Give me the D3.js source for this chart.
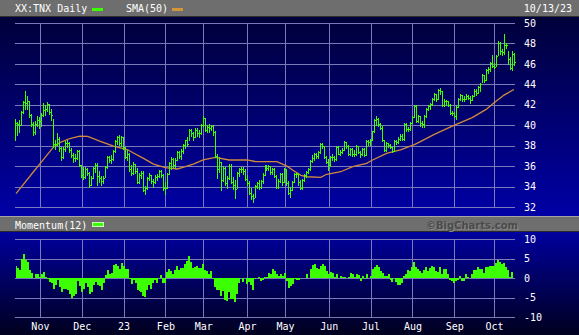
<!DOCTYPE html>
<html>
<head>
<meta charset="utf-8">
<script src="https://cdn.jsdelivr.net/npm/d3@7"></script>
<style>
  html, body { margin: 0; padding: 0; background: #000; }
  svg { display: block; }
</style>
</head>
<body>
<svg id="chart" width="579" height="335"></svg>
<script>
/* ════════════════════════════════════════════════════════
   XX:TNX daily bars + SMA(50) + Momentum(12), BigCharts look
   ════════════════════════════════════════════════════════ */

const W = 579;
const H = 335;
const GREEN     = '#3cff00';
const SMA_COLOR = '#d08a3a';
const GRID      = '#7a7abb';
const FONT      = '"DejaVu Sans Mono", monospace';

/* ── Daily bars, 14 Oct 2022 → 13 Oct 2023 (TNX = yield x10) ── */
const closes = [
  40.2, 40.1, 40.0, 41.3, 42.3, 42.2, 42.4, 41.0, 40.1, 39.3,
  40.1, 40.5, 40.4, 41.0, 41.5, 41.6, 42.1, 41.3, 41.0, 38.2,
  38.2, 38.7, 37.8, 36.9, 37.7, 38.3, 38.3, 37.6, 37.1, 36.8,
  36.8, 37.5, 36.1, 35.1, 34.9, 35.7, 35.3, 34.2, 34.8, 35.8,
  36.1, 35.0, 34.8, 34.5, 34.8, 35.9, 36.9, 36.6, 36.7, 37.5,
  38.5, 38.8, 38.3, 38.8, 37.9, 36.9, 37.2, 35.7, 35.3, 36.2,
  35.5, 34.4, 35.1, 35.3, 33.7, 33.9, 34.8, 35.1, 34.5, 34.4,
  34.9, 35.0, 35.5, 35.1, 33.9, 33.9, 35.2, 36.3, 36.7, 36.1,
  36.6, 37.4, 37.0, 37.5, 38.1, 38.6, 38.2, 39.5, 39.2, 38.8,
  39.5, 39.2, 39.2, 40.0, 40.7, 39.5, 39.8, 39.7, 39.9, 39.3,
  37.0, 35.7, 36.4, 34.6, 35.8, 34.3, 34.8, 36.0, 34.4, 34.2,
  33.8, 35.3, 35.7, 35.7, 35.5, 34.7, 34.3, 33.4, 33.1, 32.9,
  34.1, 34.3, 34.0, 34.5, 35.1, 36.0, 35.8, 36.0, 35.4, 35.7,
  35.0, 34.0, 34.5, 35.2, 34.4, 35.7, 34.3, 33.4, 33.7, 34.4,
  35.2, 35.2, 34.4, 33.9, 34.6, 35.1, 35.4, 35.7, 36.5, 36.8,
  37.2, 37.0, 37.4, 38.2, 38.0, 36.9, 36.4, 36.1, 36.9, 36.9,
  36.7, 37.9, 37.2, 37.4, 37.6, 38.4, 38.0, 37.2, 37.7, 37.2,
  37.2, 38.0, 37.4, 37.2, 37.7, 37.1, 38.5, 38.4, 38.6, 39.4,
  40.5, 40.6, 40.1, 39.7, 38.6, 37.6, 38.3, 38.1, 37.9, 37.5,
  38.5, 38.4, 38.7, 38.9, 38.7, 40.1, 39.6, 39.6, 40.2, 40.8,
  41.9, 40.4, 40.9, 40.2, 40.1, 40.9, 41.6, 41.9, 42.1, 42.6,
  43.1, 42.6, 43.4, 43.3, 42.0, 42.4, 42.4, 42.0, 41.2, 41.2,
  40.9, 41.8, 42.6, 43.0, 42.6, 42.6, 42.9, 42.7, 42.5, 42.9,
  43.3, 43.2, 43.7, 44.0, 44.9, 44.4, 45.4, 45.5, 46.1, 45.8,
  45.7, 46.8, 48.0, 47.3, 47.2, 47.8, 47.8, 46.5, 45.6, 47.0, 46.2
];

const highs = [
  40.6, 40.3, 40.5, 41.4, 42.4, 43.3, 42.9, 42.4, 41.1, 40.3,
  40.4, 40.9, 40.8, 41.2, 42.2, 42.0, 42.3, 42.1, 41.6, 40.6,
  38.6, 39.2, 38.8, 37.9, 37.9, 38.5, 38.6, 38.4, 37.8, 37.3,
  37.2, 37.6, 37.6, 36.1, 35.9, 35.9, 35.8, 35.4, 35.0, 35.9,
  36.3, 36.3, 35.5, 35.0, 35.0, 36.0, 37.0, 37.0, 37.1, 37.6,
  38.6, 38.9, 39.0, 38.9, 38.8, 37.9, 37.6, 37.3, 36.1, 36.4,
  36.2, 35.8, 35.3, 35.5, 35.5, 34.1, 34.9, 35.3, 35.1, 34.7,
  35.1, 35.2, 35.6, 35.6, 35.2, 34.4, 35.3, 36.4, 36.9, 36.8,
  36.8, 37.5, 37.5, 37.7, 38.2, 38.6, 38.8, 39.6, 39.6, 39.3,
  39.7, 39.7, 39.5, 40.1, 40.9, 40.7, 40.0, 40.1, 40.0, 40.0,
  39.4, 37.2, 36.9, 36.4, 36.0, 35.9, 35.0, 36.2, 36.2, 34.9,
  34.6, 35.4, 35.8, 35.9, 35.9, 35.7, 35.1, 34.5, 33.9, 33.3,
  34.2, 34.4, 34.6, 34.6, 35.3, 36.1, 36.1, 36.1, 36.0, 35.8,
  35.8, 35.1, 34.7, 35.3, 35.3, 35.8, 35.7, 34.5, 34.0, 34.5,
  35.3, 35.3, 35.3, 34.6, 34.7, 35.2, 35.5, 35.8, 36.6, 37.1,
  37.3, 37.3, 37.5, 38.3, 38.3, 38.0, 37.0, 36.7, 37.0, 37.2,
  37.0, 38.0, 38.0, 37.6, 37.8, 38.5, 38.4, 38.1, 37.8, 37.8,
  37.6, 38.1, 38.0, 37.5, 37.8, 37.8, 38.6, 38.6, 38.7, 39.4,
  40.6, 40.9, 40.7, 40.2, 39.9, 38.6, 38.4, 38.3, 38.2, 37.9,
  38.6, 38.6, 38.8, 39.1, 39.1, 40.2, 40.2, 39.8, 40.3, 40.9,
  42.0, 42.0, 41.0, 40.9, 40.4, 41.0, 41.7, 42.0, 42.2, 42.7,
  43.2, 43.1, 43.5, 43.6, 43.3, 42.6, 42.5, 42.4, 42.1, 41.4,
  41.3, 42.0, 42.7, 43.1, 43.0, 42.9, 43.1, 43.0, 42.9, 43.0,
  43.5, 43.5, 43.8, 44.1, 45.0, 44.9, 45.5, 45.7, 46.2, 46.9,
  46.1, 46.9, 48.2, 48.1, 47.5, 48.9, 48.0, 47.3, 46.7, 47.3, 47.1
];

const lows = [
  38.6, 39.0, 39.3, 40.0, 41.2, 41.6, 41.6, 40.8, 39.9, 39.0,
  39.1, 39.9, 39.7, 39.9, 40.9, 41.0, 41.4, 41.1, 40.5, 37.9,
  37.7, 38.1, 37.5, 36.6, 36.8, 37.5, 37.9, 37.4, 36.9, 36.4,
  36.5, 36.7, 36.0, 34.9, 34.7, 34.8, 35.1, 34.0, 34.2, 34.8,
  35.4, 34.2, 34.4, 34.2, 34.3, 34.9, 35.8, 36.4, 36.3, 36.6,
  37.4, 38.2, 38.1, 38.0, 37.7, 36.8, 36.6, 35.5, 35.1, 35.2,
  35.3, 34.3, 34.3, 34.8, 33.6, 33.3, 33.8, 34.6, 34.3, 34.0,
  34.3, 34.6, 34.9, 34.9, 33.7, 33.3, 33.9, 35.2, 35.7, 35.9,
  35.8, 36.6, 36.8, 36.7, 37.3, 37.8, 38.0, 38.6, 38.9, 38.6,
  38.8, 38.9, 38.8, 39.1, 39.9, 39.4, 39.3, 39.3, 39.5, 39.0,
  36.9, 34.8, 35.4, 33.7, 34.5, 34.2, 33.9, 34.7, 34.3, 33.8,
  32.9, 33.9, 35.0, 35.4, 35.2, 34.6, 34.2, 33.3, 32.8, 32.5,
  33.0, 33.9, 33.8, 33.9, 34.3, 35.1, 35.6, 35.6, 35.2, 35.2,
  34.9, 33.9, 33.9, 34.4, 34.2, 34.4, 34.2, 33.3, 33.0, 33.7,
  34.4, 34.9, 34.2, 33.8, 33.8, 34.5, 34.9, 35.3, 35.6, 36.4,
  36.6, 36.8, 36.8, 37.3, 37.8, 36.8, 36.3, 35.6, 36.0, 36.6,
  36.5, 36.6, 37.2, 37.1, 37.3, 37.6, 37.8, 37.1, 37.1, 37.0,
  37.0, 37.1, 37.3, 36.9, 37.1, 37.0, 37.1, 38.1, 38.1, 38.6,
  39.3, 40.0, 39.9, 39.6, 38.5, 37.5, 37.5, 37.9, 37.8, 37.4,
  37.5, 38.2, 38.3, 38.6, 38.6, 38.6, 39.4, 39.4, 39.5, 40.2,
  40.8, 40.3, 40.3, 39.9, 39.8, 39.8, 40.8, 41.5, 41.6, 42.0,
  42.5, 42.4, 42.6, 43.1, 41.9, 41.9, 42.0, 41.9, 41.1, 41.0,
  40.8, 40.6, 41.8, 42.5, 42.4, 42.4, 42.6, 42.6, 42.2, 42.5,
  42.9, 43.0, 43.2, 43.3, 44.2, 44.2, 44.4, 45.1, 45.3, 45.7,
  45.6, 45.8, 46.9, 47.0, 46.9, 47.0, 47.6, 46.0, 45.5, 45.4, 45.9
];

/* closes of the 12 sessions before the first bar (momentum look-back) */
const priorCloses = [37.0, 37.5, 38.0, 36.5, 36.2, 37.6, 38.3, 38.9, 38.9, 39.4, 39.0, 39.5];

/* ── SMA(50): bar index → value ── */
const smaIdx  = [0, 9, 14, 19, 22, 27, 32, 36, 42, 49, 56, 64, 69, 75, 81, 85, 89, 94,
                 100, 107, 116, 120, 131, 136, 139, 143, 146, 153, 156, 163, 169, 176,
                 179, 186, 193, 200, 203, 210, 219, 229, 236, 240, 245, 250];
const smaVals = [33.3, 35.5, 36.7, 37.9, 38.3, 38.7, 38.93, 38.9, 38.45, 37.96, 37.6, 36.75,
                 36.2, 35.85, 35.72, 35.94, 36.2, 36.6, 36.85, 36.6, 36.6, 36.45, 36.43, 36.0,
                 35.6, 35.1, 34.96, 34.9, 35.2, 35.45, 35.94, 36.27, 36.6, 37.25, 37.6, 38.1,
                 38.4, 39.1, 39.92, 40.75, 41.55, 42.2, 42.95, 43.5];

/* ── Axis ticks ── */
const monthLabels = ['Nov', 'Dec', '23', 'Feb', 'Mar', 'Apr', 'May', 'Jun', 'Jul', 'Aug', 'Sep', 'Oct'];
const monthIdx    = [12, 33, 54, 75, 94, 116, 135, 157, 178, 199, 220, 240];
const priceTicks  = [32, 34, 36, 38, 40, 42, 44, 46, 48, 50];
const momTicks    = [-10, -5, 0, 5, 10];

/* ─────────────────────────────────────────────────────────
   setup
   ───────────────────────────────────────────────────────── */
const N   = closes.length;
const svg = d3.select('#chart');

const x  = d3.scaleLinear().domain([-0.5, N - 0.5]).range([15, 515]);
const y  = d3.scaleLinear().domain([32, 50]).range([207, 23]);
const yM = d3.scaleLinear().domain([-10, 10]).range([317, 239]);

const allCloses = priorCloses.concat(closes);
const momentum  = closes.map((c, i) => c - allCloses[i]);   // close - close 12 bars back

/* ── Backgrounds ── */
const defs = svg.append('defs');
function vGrad(id, top, bottom) {
  const g = defs.append('linearGradient').attr('id', id)
    .attr('x1', 0).attr('y1', 0).attr('x2', 0).attr('y2', 1);
  g.append('stop').attr('offset', '0%').attr('stop-color', top);
  g.append('stop').attr('offset', '100%').attr('stop-color', bottom);
}
vGrad('bgMain', '#00003a', '#0000a6');
vGrad('bgMom',  '#00009e', '#00001e');

svg.append('rect').attr('x', 0).attr('y', 17).attr('width', W).attr('height', 199).attr('fill', 'url(#bgMain)');
svg.append('rect').attr('x', 0).attr('y', 232).attr('width', W).attr('height', H - 232).attr('fill', 'url(#bgMom)');

/* ── Header strips ── */
svg.append('rect').attr('x', 0).attr('y', 0).attr('width', W).attr('height', 16).attr('fill', '#6e6e6e');
svg.append('rect').attr('x', 0).attr('y', 16).attr('width', W).attr('height', 1).attr('fill', '#2e2e2e');
svg.append('rect').attr('x', 0).attr('y', 216).attr('width', W).attr('height', 1).attr('fill', '#a4a4a4');
svg.append('rect').attr('x', 0).attr('y', 217).attr('width', W).attr('height', 14).attr('fill', '#6e6e6e');
svg.append('rect').attr('x', 0).attr('y', 231).attr('width', W).attr('height', 1).attr('fill', '#2a2a2a');

function styleAxis(ax) {
  ax.select('.domain').remove();
  ax.selectAll('.tick line').attr('stroke', GRID).attr('shape-rendering', 'crispEdges');
  ax.selectAll('.tick text')
    .attr('fill', '#ffffff')
    .attr('font-size', 10)
    .attr('font-family', FONT);
}

/* ── Price grid + right labels ── */
svg.append('g')
  .attr('transform', 'translate(515,0)')
  .call(d3.axisRight(y).tickValues(priceTicks).tickSize(-500).tickPadding(9).tickFormat(d => String(d)))
  .call(styleAxis);

svg.append('g')
  .attr('transform', `translate(0,${y(32)})`)
  .call(d3.axisBottom(x).tickValues(monthIdx).tickSize(-(y(32) - y(50))).tickFormat(''))
  .call(styleAxis);

/* ── Momentum grid + labels ── */
svg.append('g')
  .attr('transform', 'translate(515,0)')
  .call(d3.axisRight(yM).tickValues(momTicks).tickSize(-500).tickPadding(9).tickFormat(d => String(d)))
  .call(styleAxis);

svg.append('g')
  .attr('transform', `translate(0,${yM(-10)})`)
  .call(d3.axisBottom(x).tickValues(monthIdx).tickSize(-(yM(-10) - yM(10))).tickPadding(5.5)
    .tickFormat((d, i) => monthLabels[i]))
  .call(styleAxis);

/* ── SMA(50) ── */
const smaLine = d3.line()
  .x(d => x(d[0]))
  .y(d => y(d[1]));

svg.append('path')
  .datum(smaIdx.map((d, i) => [d, smaVals[i]]))
  .attr('d', smaLine)
  .attr('fill', 'none')
  .attr('stroke', SMA_COLOR)
  .attr('stroke-width', 1.3);

/* ── HLC bars ── */
const bars = svg.append('g').attr('fill', GREEN).attr('shape-rendering', 'crispEdges');

bars.selectAll('rect.hl')
  .data(closes)
  .join('rect')
  .attr('class', 'hl')
  .attr('x', (d, i) => Math.floor(x(i)))
  .attr('y', (d, i) => Math.round(y(highs[i])))
  .attr('width', 1)
  .attr('height', (d, i) => Math.max(1, Math.round(y(lows[i])) - Math.round(y(highs[i])) + 1));

bars.selectAll('rect.cl')
  .data(closes)
  .join('rect')
  .attr('class', 'cl')
  .attr('x', (d, i) => Math.floor(x(i)) + 1)
  .attr('y', d => Math.round(y(d)))
  .attr('width', 1)
  .attr('height', 1);

/* ── Momentum area ── */
const momArea = d3.area()
  .x((d, i) => x(i))
  .y0(yM(0))
  .y1(d => yM(d))
  .curve(d3.curveStep);

svg.append('path')
  .datum(momentum)
  .attr('d', momArea)
  .attr('fill', GREEN)
  .attr('shape-rendering', 'crispEdges');

/* ── Header texts + legend keys ── */
function label(txt, xPos, yPos, opts = {}) {
  return svg.append('text')
    .attr('x', xPos)
    .attr('y', yPos)
    .attr('text-anchor', opts.anchor || 'start')
    .attr('fill', opts.fill || '#ffffff')
    .attr('font-size', opts.size || 10)
    .attr('font-weight', opts.weight || 'normal')
    .attr('font-family', opts.family || FONT)
    .text(txt);
}

label('XX:TNX Daily', 15, 12);
svg.append('rect').attr('x', 92).attr('y', 8).attr('width', 11).attr('height', 3).attr('fill', GREEN);
label('SMA(50)', 126, 12);
svg.append('rect').attr('x', 172).attr('y', 8).attr('width', 11).attr('height', 3).attr('fill', '#d4963c');
label('10/13/23', 572, 12, { anchor: 'end' });

label('Momentum(12)', 15, 229);
svg.append('rect').attr('x', 92.5).attr('y', 222.5).attr('width', 11).attr('height', 4)
  .attr('fill', GREEN).attr('stroke', '#c8ffc0').attr('stroke-width', 1);

label('©BigCharts.com', 519, 230, { anchor: 'end', fill: '#8a8a8a', weight: 'bold', family: '"DejaVu Sans", sans-serif' });
label('©BigCharts.com', 518, 229, { anchor: 'end', fill: '#4a4a4a', weight: 'bold', family: '"DejaVu Sans", sans-serif' });
</script>
</body>
</html>
